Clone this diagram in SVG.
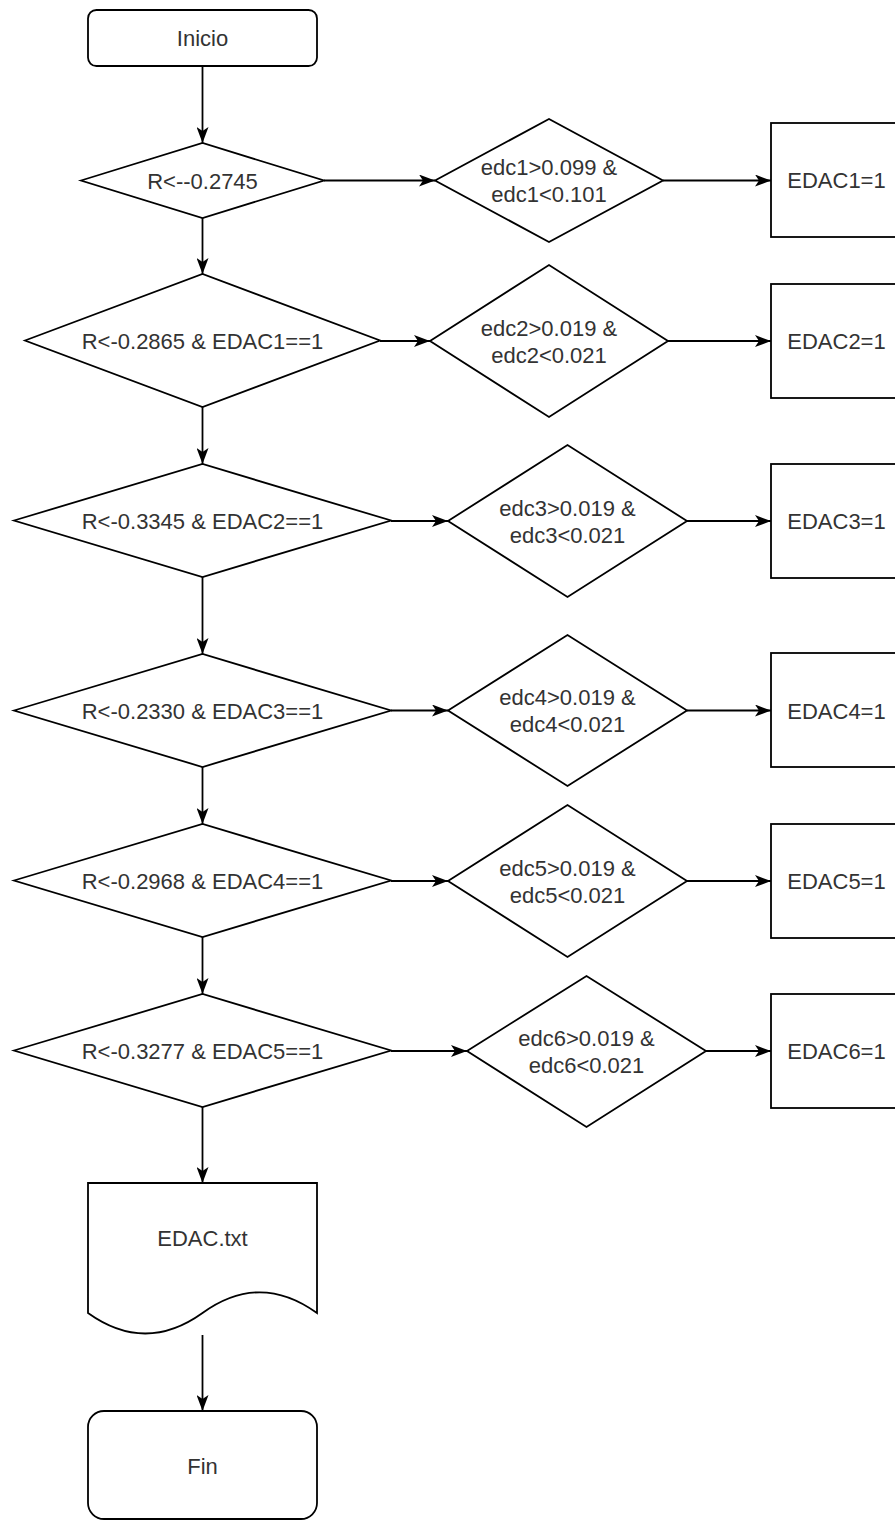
<svg xmlns="http://www.w3.org/2000/svg" width="895" height="1521" viewBox="0 0 895 1521">
<style>
.s{fill:#fff;stroke:#000;stroke-width:1.8}
.t{font-family:"Liberation Sans",Arial,sans-serif;font-size:22px;fill:#333;text-anchor:middle}
.c{stroke:#000;stroke-width:1.8;fill:none;marker-end:url(#a)}
</style>
<defs>
<marker id="a" viewBox="0 0 16 12" refX="16" refY="6" markerWidth="16" markerHeight="12" markerUnits="userSpaceOnUse" orient="auto">
<path d="M0,0 L16,6 L0,12 L4,6 Z" fill="#000"/>
</marker>
</defs>
<rect width="895" height="1521" fill="#fff"/>
<g id="connectors">
<line class="c" x1="202.5" y1="66" x2="202.5" y2="143"/>
<line class="c" x1="324" y1="180.5" x2="435" y2="180.5"/>
<line class="c" x1="663" y1="180.5" x2="771" y2="180.5"/>
<line class="c" x1="202.5" y1="218" x2="202.5" y2="274"/>
<line class="c" x1="380" y1="341" x2="430" y2="341"/>
<line class="c" x1="668" y1="341" x2="771" y2="341"/>
<line class="c" x1="202.5" y1="407" x2="202.5" y2="464"/>
<line class="c" x1="391" y1="521" x2="448" y2="521"/>
<line class="c" x1="687" y1="521" x2="771" y2="521"/>
<line class="c" x1="202.5" y1="577" x2="202.5" y2="654"/>
<line class="c" x1="391" y1="710.5" x2="448" y2="710.5"/>
<line class="c" x1="687" y1="710.5" x2="771" y2="710.5"/>
<line class="c" x1="202.5" y1="767" x2="202.5" y2="824"/>
<line class="c" x1="391" y1="881" x2="448" y2="881"/>
<line class="c" x1="687" y1="881" x2="771" y2="881"/>
<line class="c" x1="202.5" y1="937" x2="202.5" y2="994"/>
<line class="c" x1="391" y1="1051" x2="467" y2="1051"/>
<line class="c" x1="706" y1="1051" x2="771" y2="1051"/>
<line class="c" x1="202.5" y1="1107" x2="202.5" y2="1183"/>
<line class="c" x1="202.5" y1="1335" x2="202.5" y2="1411"/>
</g>
<g id="inicio"><rect class="s" x="88" y="10" width="229" height="56" rx="8.4"/><text class="t" x="202.5" y="46">Inicio</text></g>
<g id="d1"><polygon class="s" points="81,180.5 202.5,143 324,180.5 202.5,218"/><text class="t" x="202.5" y="188.5">R&lt;--0.2745</text></g>
<g id="e1"><polygon class="s" points="435,180.5 549,119 663,180.5 549,242"/><text class="t" x="549" y="175">edc1&gt;0.099 &amp;</text><text class="t" x="549" y="202">edc1&lt;0.101</text></g>
<g id="b1"><rect class="s" x="771" y="123" width="131" height="114"/><text class="t" x="836.5" y="188">EDAC1=1</text></g>
<g id="d2"><polygon class="s" points="25,340.5 202.5,274 380,340.5 202.5,407"/><text class="t" x="202.5" y="348.5">R&lt;-0.2865 &amp; EDAC1==1</text></g>
<g id="e2"><polygon class="s" points="430,341 549,265 668,341 549,417"/><text class="t" x="549" y="335.5">edc2&gt;0.019 &amp;</text><text class="t" x="549" y="362.5">edc2&lt;0.021</text></g>
<g id="b2"><rect class="s" x="771" y="284" width="131" height="114"/><text class="t" x="836.5" y="349">EDAC2=1</text></g>
<g id="d3"><polygon class="s" points="14,520.5 202.5,464 391,520.5 202.5,577"/><text class="t" x="202.5" y="528.5">R&lt;-0.3345 &amp; EDAC2==1</text></g>
<g id="e3"><polygon class="s" points="448,521 567.5,445 687,521 567.5,597"/><text class="t" x="567.5" y="515.5">edc3&gt;0.019 &amp;</text><text class="t" x="567.5" y="542.5">edc3&lt;0.021</text></g>
<g id="b3"><rect class="s" x="771" y="464" width="131" height="114"/><text class="t" x="836.5" y="529">EDAC3=1</text></g>
<g id="d4"><polygon class="s" points="14,710.5 202.5,654 391,710.5 202.5,767"/><text class="t" x="202.5" y="718.5">R&lt;-0.2330 &amp; EDAC3==1</text></g>
<g id="e4"><polygon class="s" points="448,710.5 567.5,635 687,710.5 567.5,786"/><text class="t" x="567.5" y="705">edc4&gt;0.019 &amp;</text><text class="t" x="567.5" y="732">edc4&lt;0.021</text></g>
<g id="b4"><rect class="s" x="771" y="653" width="131" height="114"/><text class="t" x="836.5" y="718.5">EDAC4=1</text></g>
<g id="d5"><polygon class="s" points="14,880.5 202.5,824 391,880.5 202.5,937"/><text class="t" x="202.5" y="888.5">R&lt;-0.2968 &amp; EDAC4==1</text></g>
<g id="e5"><polygon class="s" points="448,881 567.5,805 687,881 567.5,957"/><text class="t" x="567.5" y="875.5">edc5&gt;0.019 &amp;</text><text class="t" x="567.5" y="902.5">edc5&lt;0.021</text></g>
<g id="b5"><rect class="s" x="771" y="824" width="131" height="114"/><text class="t" x="836.5" y="889">EDAC5=1</text></g>
<g id="d6"><polygon class="s" points="14,1050.5 202.5,994 391,1050.5 202.5,1107"/><text class="t" x="202.5" y="1058.5">R&lt;-0.3277 &amp; EDAC5==1</text></g>
<g id="e6"><polygon class="s" points="467,1051 586.5,976 706,1051 586.5,1127"/><text class="t" x="586.5" y="1045.5">edc6&gt;0.019 &amp;</text><text class="t" x="586.5" y="1072.5">edc6&lt;0.021</text></g>
<g id="b6"><rect class="s" x="771" y="994" width="131" height="114"/><text class="t" x="836.5" y="1059">EDAC6=1</text></g>
<g id="doc"><path class="s" d="M88,1183 H317 V1313 Q259.75,1271.6 202.5,1313 Q145.25,1354 88,1313 Z"/><text class="t" x="202.5" y="1246">EDAC.txt</text></g>
<g id="fin"><rect class="s" x="88" y="1411" width="229" height="108" rx="16"/><text class="t" x="202.5" y="1474">Fin</text></g>
</svg>
